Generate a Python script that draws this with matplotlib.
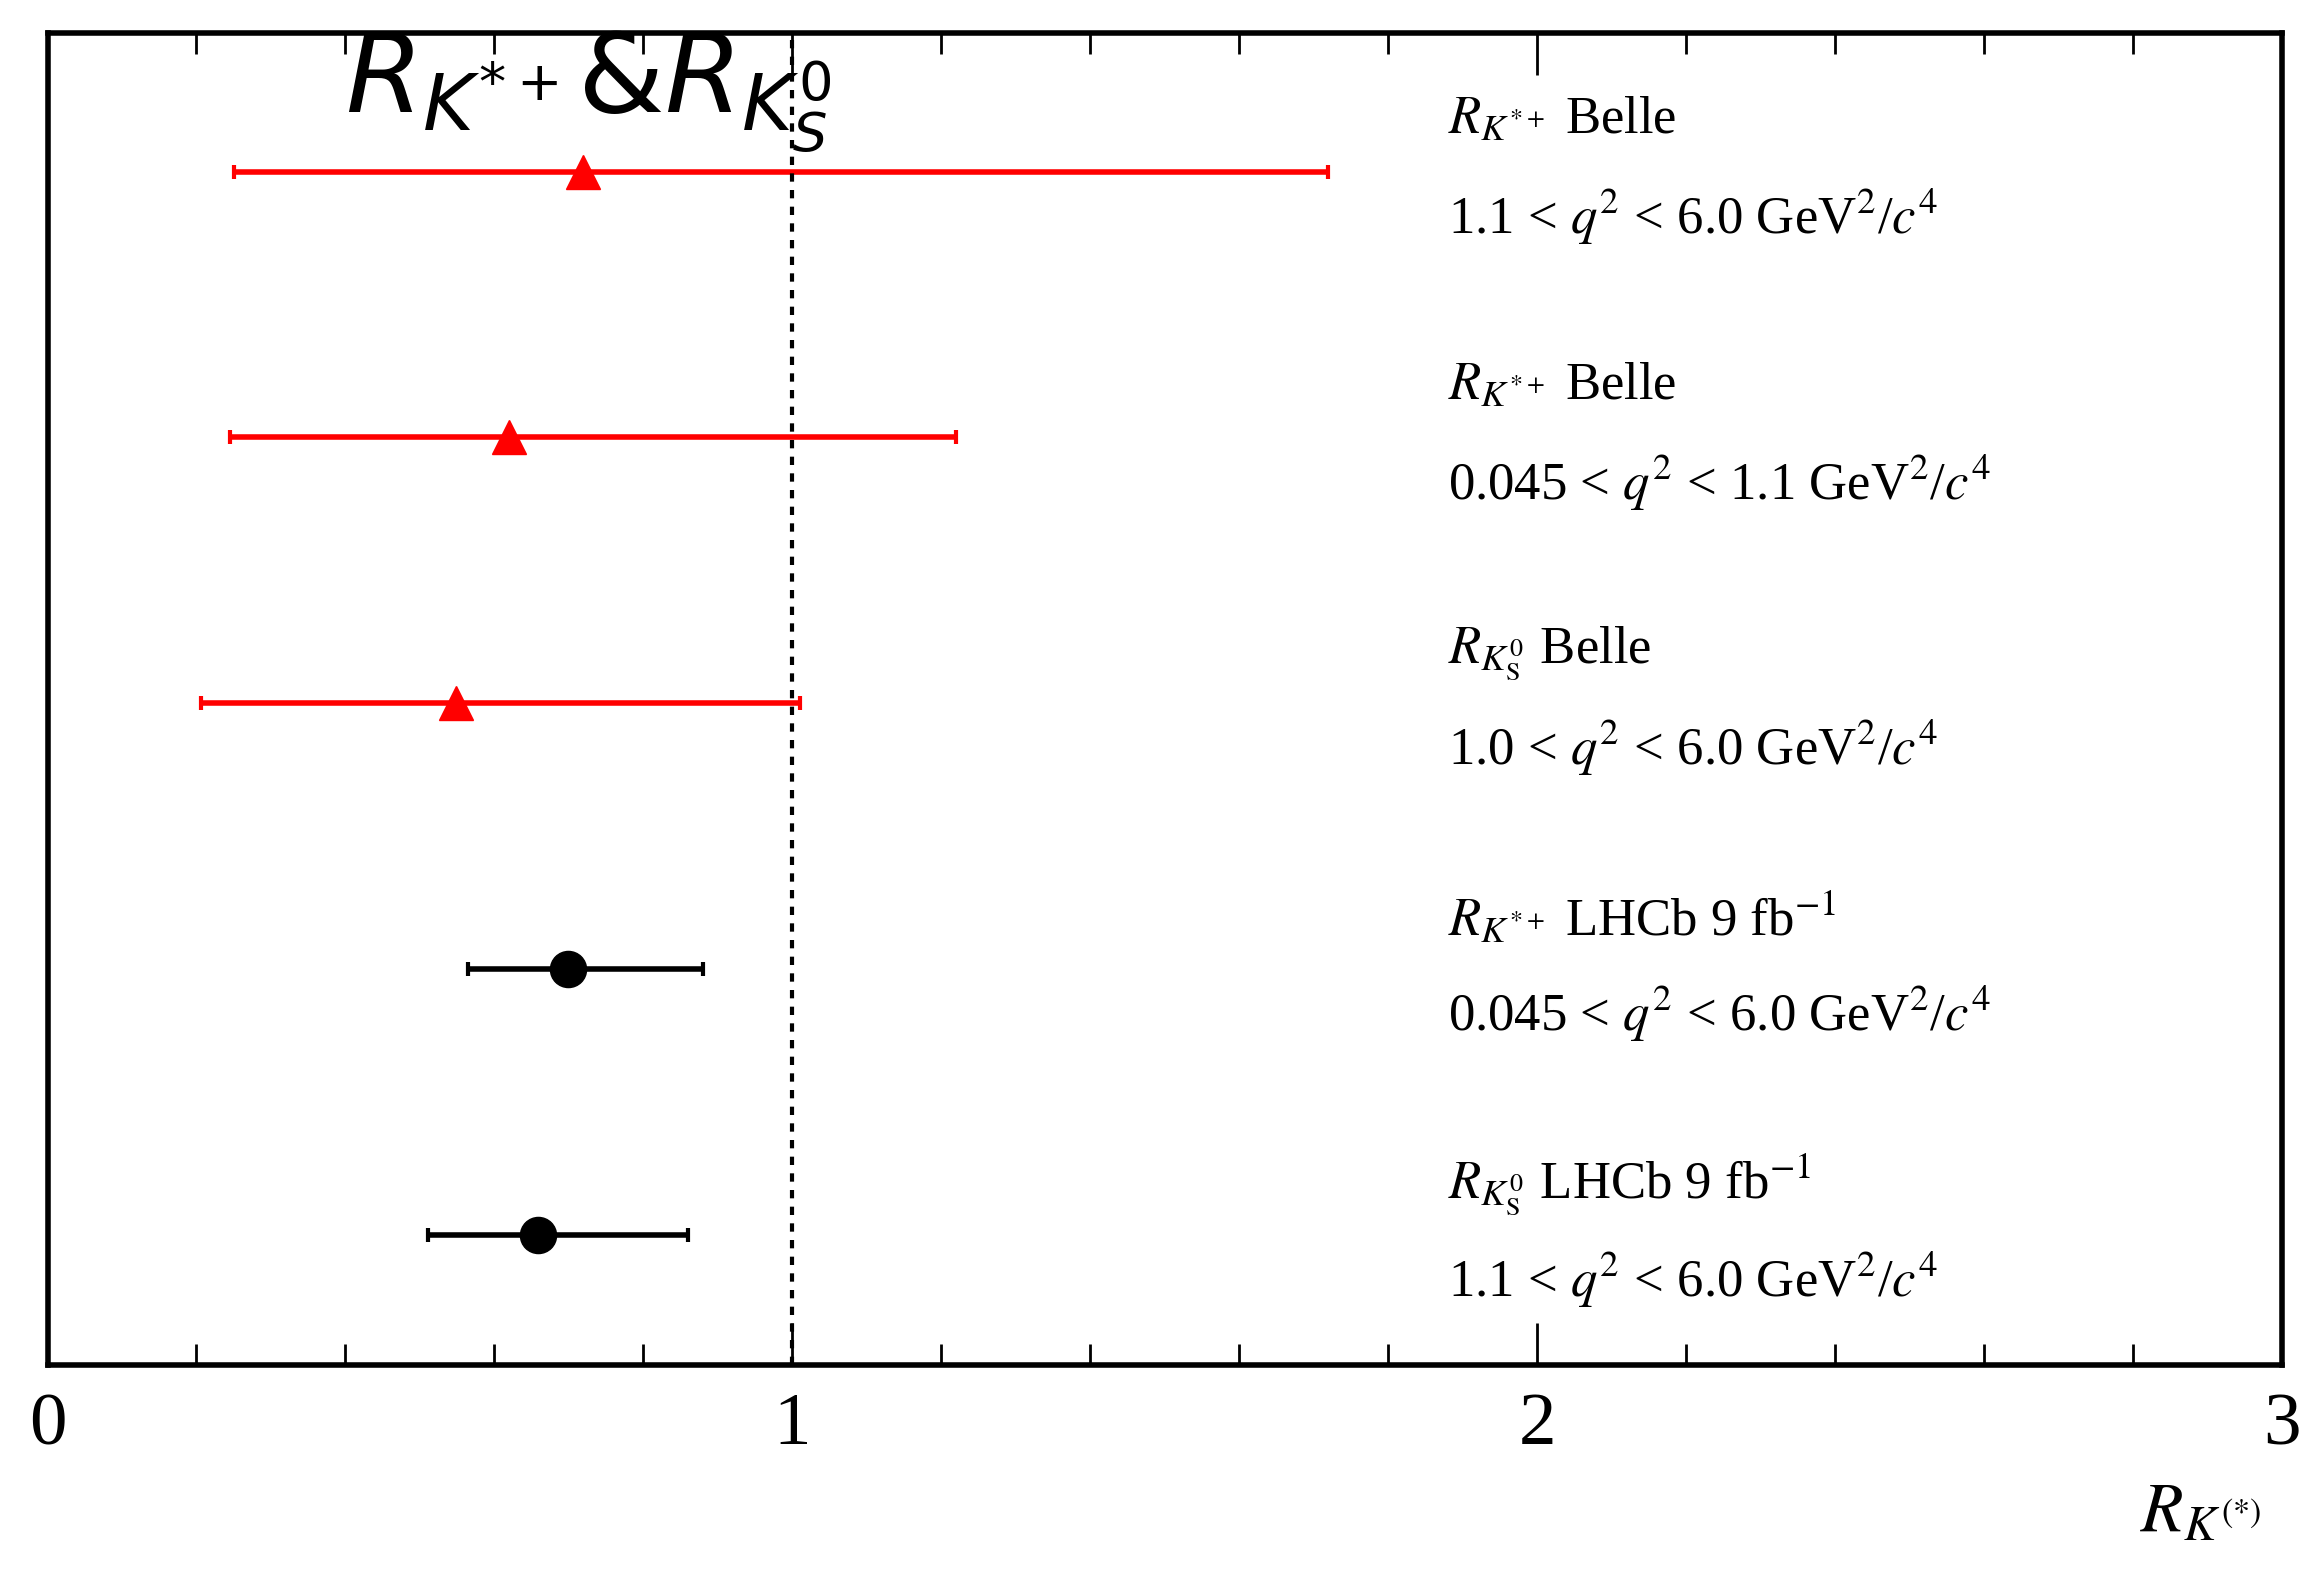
import matplotlib
matplotlib.use("Agg")
import matplotlib.pyplot as plt
import numpy as np

plt.rcParams['mathtext.fontset'] = 'stix'
plt.rcParams['font.family'] = ['Liberation Serif', 'DejaVu Serif']

labels1 = [r"$R_{K^{*+}}$ Belle", r"$R_{K^{*+}}$ Belle", r"$R_{K^0_{\rm S}}$ Belle",
           r"$R_{K^{*+}}$ LHCb 9 fb$^{\rm{-1}}$", r"$R_{K^0_{\rm S}}$ LHCb 9 fb$^{\rm{-1}}$"]
labels2 = [r"1.1 < $q^2$ < 6.0 GeV$^2$/$c^4$", r"0.045 < $q^2$ < 1.1 GeV$^2$/$c^4$",
           r"1.0 < $q^2$ < 6.0 GeV$^2$/$c^4$", r"0.045 < $q^2$ < 6.0 GeV$^2$/$c^4$",
           r"1.1 < $q^2$ < 6.0 GeV$^2$/$c^4$"]
central = [0.719, 0.619, 0.549, 0.699, 0.659]
low = [0.251, 0.245, 0.206, 0.565, 0.511]
high = [1.719, 1.22, 1.01, 0.880, 0.860]
ypos = [5, 4, 3, 2, 1]
colors = ['red', 'red', 'red', 'black', 'black']
markers = ['^', '^', '^', 'o', 'o']

fig = plt.figure(figsize=(23.19, 15.94), dpi=100)
ax = fig.add_axes([0.0205, 0.1437, 0.9635, 0.8353])
for c, lo, hi, y, col, m in zip(central, low, high, ypos, colors, markers):
    ax.errorbar([c], [y], xerr=[[c - lo], [hi - c]], fmt=m, color=col, ms=26 if m == 'o' else 24,
                elinewidth=4, capsize=5, capthick=3)
ax.axvline(1, color='black', ls=(0, (2, 2)), lw=3)
for y, l1, l2 in zip(ypos, labels1, labels2):
    ax.text(1.88, y + 0.19, l1, fontsize=38, va='center', ha='left')
    ax.text(1.88, y - 0.17, l2, fontsize=38, va='center', ha='left')
ax.text(0.4, 5.3, r"$R_{K^{*+}}$&$R_{K_S^0}$", fontsize=80, family='DejaVu Sans',
        math_fontfamily='dejavusans', ha='left', va='center')
ax.set_xlim(0, 3)
ax.set_ylim(0.51, 5.52)
ax.set_yticks([])
ax.set_xticks([0, 1, 2, 3])
ax.set_xticks(np.arange(0, 3.01, 0.2), minor=True)
ax.tick_params(axis='x', which='both', direction='in', top=True, labelsize=54, pad=20)
ax.tick_params(axis='x', which='major', length=30, width=2)
ax.tick_params(axis='x', which='minor', length=15, width=2)
for s in ax.spines.values():
    s.set_linewidth(4)
fig.text(0.975, 0.05, r"$R_{K^{(*)}}$", fontsize=50, ha='right', va='center')
fig.savefig("out.png", dpi=100)
